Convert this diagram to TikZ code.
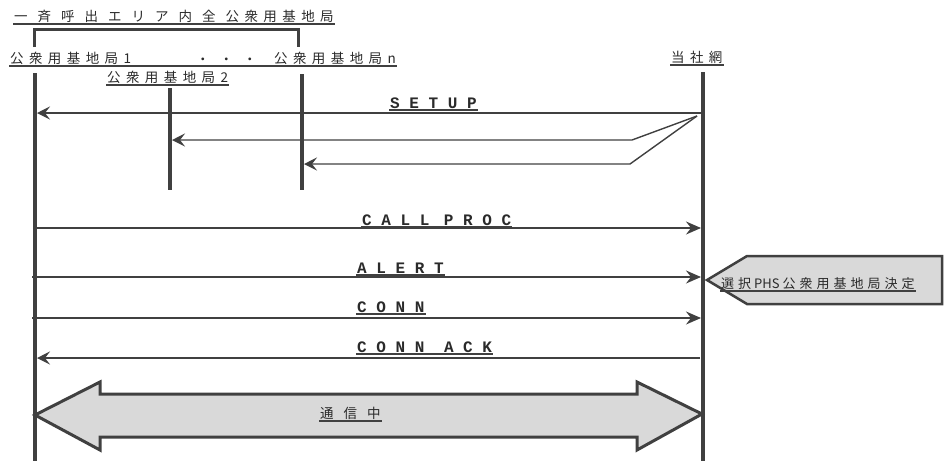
\documentclass[tikz,border=0pt]{standalone}
\usepackage{fontspec}
\newfontfamily\jpfont[LetterSpace=40]{Noto Sans CJK JP}
\newfontfamily\jpplain{Noto Sans CJK JP}
\newfontfamily\msgfont{Liberation Mono}
\usetikzlibrary{arrows.meta}
\definecolor{ink}{HTML}{404040}
\definecolor{fillg}{HTML}{D9D9D9}
\definecolor{txt}{HTML}{2A2A2A}
\begin{document}
\begin{tikzpicture}[x=1pt,y=-1pt,
  lifeline/.style={draw=ink, line width=3.2pt},
  bracket/.style={draw=ink, line width=3pt},
  msg/.style={draw=ink, line width=1.4pt},
  arrR/.style={msg, -{Stealth[length=15pt,width=13pt,inset=5pt]}},
  arrL/.style={msg, -{Stealth[length=13pt,width=13pt,inset=5pt]}},
  ulline/.style={draw=ink, line width=1.3pt},
  jp/.style={font={\fontsize{13.5}{15}\jpfont\spaceskip=10pt\relax}, text=txt, inner xsep=1pt, inner ysep=1.5pt, anchor=south west},
  lat/.style={font={\fontsize{16}{18}\msgfont\bfseries}, text=txt, inner xsep=1pt, inner ysep=1.2pt, anchor=south west},
  ul/.style={append after command={\pgfextra{\let\ulnode\tikzlastnode} (\ulnode.south west) edge[ulline] (\ulnode.south east)}},
  band/.style={fill=fillg, draw=ink, line width=3pt, line join=miter},
  callout/.style={fill=fillg, draw=ink, line width=2.5pt, line join=miter}]
\useasboundingbox (0,0) rectangle (944,461);

% top labels
\node[jp, ul] (area) at (13,24) {一 斉 呼 出 エ リ ア 内 全 公衆用基地局};
\coordinate (bl1) at (34,47); \coordinate (bl2) at (34,29);
\coordinate (br2) at (298,29); \coordinate (br1) at (298,47);
\draw[bracket] (bl1) -- (bl2) -- (br2) -- (br1);

\node[jp] (b1) at (9,66) {公衆用基地局1};
\node[jp] (dots) at (195,66) {・ ・ ・};
\node[jp] (bn) at (273,66) {公衆用基地局n};
\draw[ulline] (b1.south west) -- (bn.south east |- b1.south west);
\node[jp, ul] (b2) at (106,85) {公衆用基地局2};
\node[jp, ul] (net) at (670,65) {当社網};

% band
\coordinate (bandL) at (35,415);
\coordinate (bandR) at (702,414);
\filldraw[band] (bandL) -- (100,382) -- (100,394) -- (637,394) -- (637,382) -- (bandR)
  -- (637,450) -- (637,437) -- (100,437) -- (100,450) -- cycle;
\node[jp, ul] (talk) at (319,421) {通 信 中};

% callout
\coordinate (cTip) at (707,280);
\filldraw[callout] (cTip) -- (747,256) -- (942,256) -- (942,304) -- (747,304) -- cycle;
\node[jp, ul, font={\fontsize{13}{15}\jpplain}] (sel) at (720,291) {選\hspace{4pt}択\hspace{3pt}PHS\hspace{3pt}公\hspace{4pt}衆\hspace{4pt}用\hspace{4pt}基\hspace{4pt}地\hspace{4pt}局\hspace{4pt}決\hspace{4pt}定};

% lifelines
\coordinate (L1t) at (35,73); \coordinate (L1b) at (35,461);
\coordinate (L2t) at (170,88); \coordinate (L2b) at (170,190);
\coordinate (Lnt) at (302,74); \coordinate (Lnb) at (302,190);
\coordinate (Nt) at (703,72); \coordinate (Nb) at (703,461);
\draw[lifeline] (L1t) -- (L1b);
\draw[lifeline] (L2t) -- (L2b);
\draw[lifeline] (Lnt) -- (Lnb);
\draw[lifeline] (Nt) -- (Nb);

% SETUP
\coordinate (sN) at (702,113); \coordinate (s1) at (37,113);
\coordinate (sFork) at (697,116);
\coordinate (s2k) at (632,140); \coordinate (s2) at (172,140);
\coordinate (snk) at (630,164); \coordinate (sn) at (304,164);
\draw[arrL] (sN) -- (s1);
\draw[arrL] (sFork) -- (s2k) -- (s2);
\draw[arrL] (sFork) -- (snk) -- (sn);
\node[lat, ul] (tSetup) at (389,110) {S E T U P};

% CALL PROC
\coordinate (cp1) at (35,228); \coordinate (cpN) at (701,228);
\draw[arrR] (cp1) -- (cpN);
\node[lat, ul] (tCall) at (361,227) {C A L L\hspace{5pt} P R O C};

% ALERT
\coordinate (al1) at (32,277); \coordinate (alN) at (701,277);
\draw[arrR] (al1) -- (alN);
\node[lat, ul] (tAlert) at (356,275) {A L E R T};

% CONN
\coordinate (cn1) at (32,318); \coordinate (cnN) at (701,318);
\draw[arrR] (cn1) -- (cnN);
\node[lat, ul] (tConn) at (356,314) {C O N N};

% CONN ACK
\coordinate (ckN) at (700,358); \coordinate (ck1) at (37,358);
\draw[arrL] (ckN) -- (ck1);
\node[lat, ul] (tAck) at (356,354) {C O N N\hspace{10pt} A C K};
\end{tikzpicture}
\end{document}
